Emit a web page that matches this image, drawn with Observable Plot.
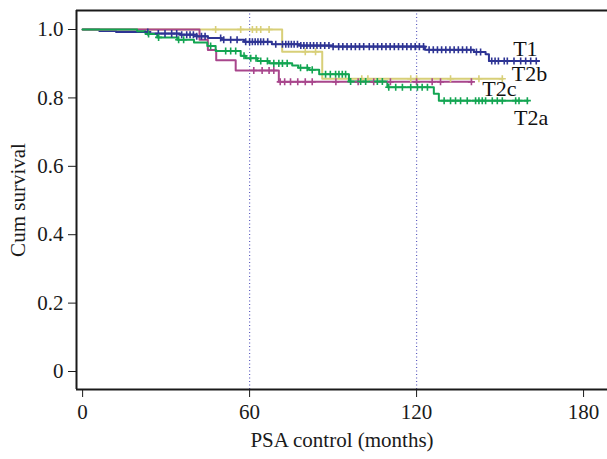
<!DOCTYPE html>
<html>
<head>
<meta charset="utf-8">
<script src="https://cdn.jsdelivr.net/npm/d3@7"></script>
<script src="https://cdn.jsdelivr.net/npm/@observablehq/plot@0.6"></script>
<style>
  html, body { margin: 0; padding: 0; background: #fff; }
</style>
</head>
<body>
<div id="chart"></div>
<script>
// ---- Data ----
// Step points: survival value starting at each time (months)
const t1Time = [0, 6, 12, 24, 35, 41, 45, 50, 58, 68, 78, 90, 123, 140.6, 144.8, 146, 164];
const t1Surv = [1, 0.996, 0.993, 0.988, 0.985, 0.98, 0.975, 0.97, 0.964, 0.957, 0.953, 0.95, 0.941, 0.934, 0.928, 0.908, 0.908];
const t1Censor = [23.4, 27.2, 29.6, 32, 33.8, 35.6, 37.4, 38.6, 39.8, 41, 42.7, 44, 49.6, 50.7, 53.2, 55.5, 58.6, 60, 61, 62, 63, 64, 65, 66.5, 69.4, 71.8, 73, 74, 75, 76, 77.2, 78.4, 79.5, 80.6, 81.8, 83, 84.2, 85.5, 87, 88.5, 90, 92, 93.5, 95, 96.5, 98, 99.5, 101, 103, 104.5, 106, 107.5, 109, 110.5, 112, 113.5, 115, 116.5, 118, 119.5, 121, 122.5, 124.5, 126, 127.5, 129, 130.5, 132, 133.5, 135, 136.5, 138, 139.5, 141.5, 143, 147, 148.2, 149.4, 151.5, 152.6, 155, 157.4, 159.2, 161, 163];

const t2bTime = [0, 71.7, 86.1, 151];
const t2bSurv = [1, 0.935, 0.856, 0.856];
const t2bCensor = [47.8, 56.8, 61, 62.5, 64, 67, 80, 83.7, 100.3, 102.5, 117.9, 120, 132.2, 142.4, 150.8];

const t2cTime = [0, 42, 45, 48, 55, 70.5, 140];
const t2cSurv = [1, 0.97, 0.94, 0.91, 0.88, 0.847, 0.847];
const t2cCensor = [61.5, 64.5, 67, 68.7, 71, 72.6, 74.7, 77.3, 80, 82.5, 91, 99, 104.6, 110.6, 120, 125.6, 128.6, 139.7];

const t2aTime = [0, 19.6, 22.6, 26.8, 34, 40, 44.8, 47.8, 56.8, 58.6, 62.8, 67, 75.3, 77.5, 81.3, 85, 95.7, 109.5, 126.2, 128, 160];
const t2aSurv = [1, 0.995, 0.987, 0.977, 0.97, 0.962, 0.952, 0.937, 0.923, 0.916, 0.908, 0.901, 0.895, 0.888, 0.882, 0.869, 0.848, 0.831, 0.812, 0.792, 0.792];
const t2aCensor = [23.7, 27.3, 34.5, 36.3, 46, 51.4, 53.2, 55, 58, 60.4, 62.3, 64, 66.4, 68.7, 70.5, 71.8, 73.5, 78.3, 80.7, 82.5, 87.3, 89, 90.9, 92.1, 93.3, 94.5, 96.3, 99.9, 101.7, 105.9, 107.7, 110, 112.5, 114.9, 117.9, 120.3, 122, 123.9, 129.9, 132.2, 134, 135.8, 138.2, 141.2, 142.4, 143.6, 144.8, 147.2, 149, 150.8, 155.6, 156.8, 159.8];

const seriesNames = ["T1", "T2b", "T2c", "T2a"];
const seriesColors = ["#2e3494", "#d8cf78", "#a8468c", "#13a552"];

const labelTime = [154.7, 154.2, 143.6, 155];
const labelSurv = [0.942, 0.870, 0.826, 0.741];

const xTicks = [0, 60, 120, 180];
const yTicks = [0, 0.2, 0.4, 0.6, 0.8, 1.0];
const refLines = [60, 120];

const xDomain = [-2.2, 188.6];
const yDomain = [-0.0526, 1.0556];

// ---- Build tables ----
const steps = [
  [t1Time, t1Surv, t1Censor],
  [t2bTime, t2bSurv, t2bCensor],
  [t2cTime, t2cSurv, t2cCensor],
  [t2aTime, t2aSurv, t2aCensor]
];

function survAt(times, surv, t) {
  let v = surv[0];
  for (let i = 0; i < times.length; i++) if (times[i] <= t) v = surv[i];
  return v;
}

const lineMarks = [];
const censorMarks = [];
steps.forEach(([tm, sv, cs], i) => {
  const rows = tm.map((t, j) => ({t, s: sv[j]}));
  lineMarks.push(Plot.line(rows, {x: "t", y: "s", curve: "step-after", stroke: seriesColors[i], strokeWidth: 2}));
  const crow = cs.map(t => ({t, s: survAt(tm, sv, t)}));
  censorMarks.push(Plot.dot(crow, {x: "t", y: "s", symbol: "plus", r: 2.4, stroke: seriesColors[i], strokeWidth: 1.6}));
});

const labels = seriesNames.map((n, i) => ({n, t: labelTime[i], s: labelSurv[i]}));

const chart = Plot.plot({
  width: 607,
  height: 459,
  marginLeft: 76,
  marginRight: 0,
  marginTop: 10,
  marginBottom: 70,
  style: {fontFamily: "'Liberation Serif', 'Times New Roman', serif", fontSize: "21px", background: "#fff", color: "#1a1a1a"},
  x: {domain: xDomain, ticks: xTicks, tickSize: 8, tickPadding: 7, label: "PSA control (months)", labelAnchor: "center", labelOffset: 57, labelArrow: "none"},
  y: {domain: yDomain, ticks: yTicks, tickSize: 8, tickPadding: 5, tickFormat: d => d === 0 ? "0" : d.toFixed(1), label: "Cum survival", labelAnchor: "center", labelOffset: 66, labelArrow: "none"},
  marks: [
    Plot.ruleX(refLines, {stroke: "#5c5cbf", strokeDasharray: "1,2.5", strokeWidth: 1.2}),
    ...lineMarks,
    ...censorMarks,
    Plot.text(labels, {x: "t", y: "s", text: "n", textAnchor: "start", fill: "#111", fontSize: 22}),
    Plot.ruleX([xDomain[0]], {stroke: "#1a1a1a", strokeWidth: 2}),
    Plot.ruleY([yDomain[0], yDomain[1]], {stroke: "#1a1a1a", strokeWidth: 2})
  ]
});
document.getElementById("chart").appendChild(chart);
</script>
</body>
</html>
